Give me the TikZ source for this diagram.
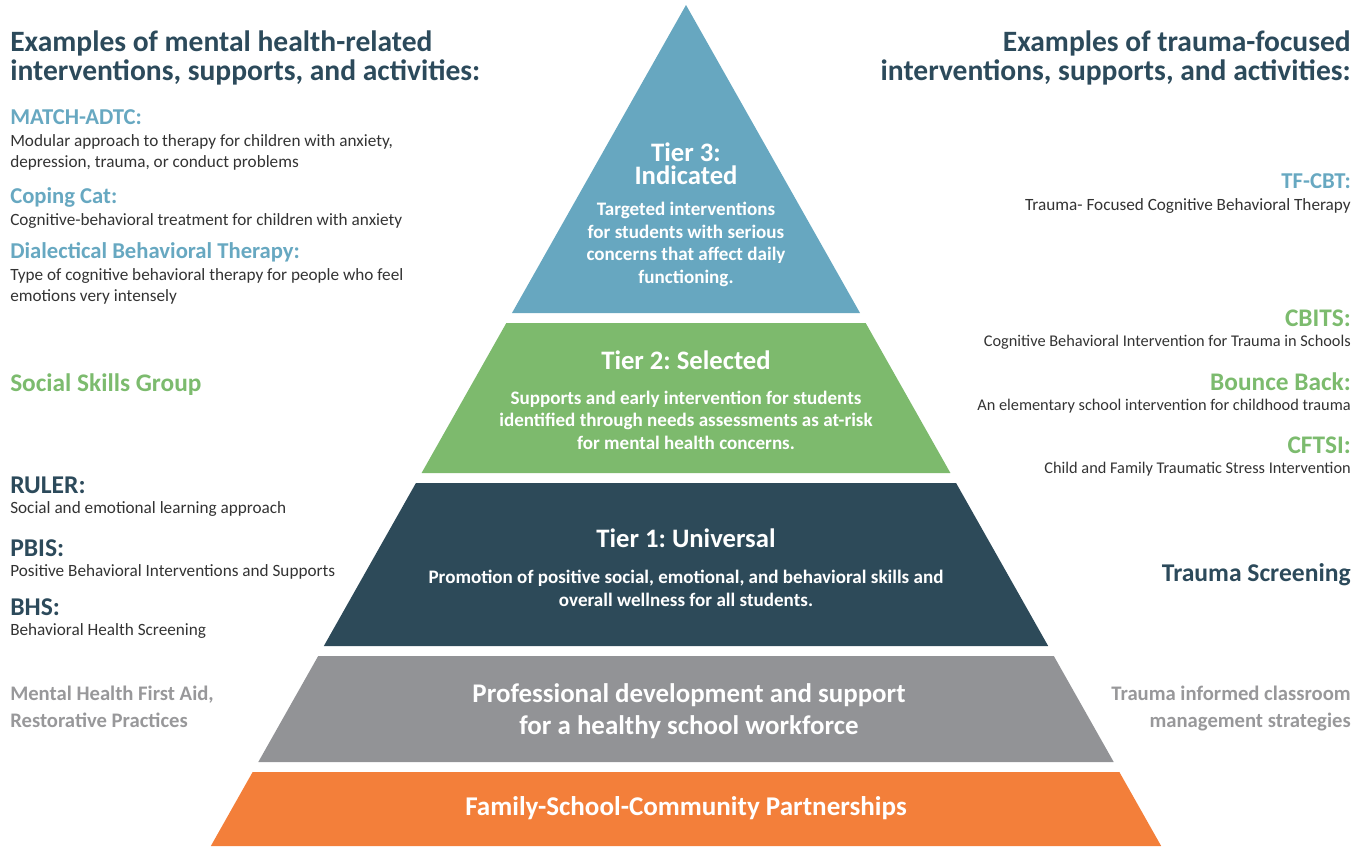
\documentclass[tikz,border=0pt]{standalone}
\usepackage{fontspec}
\setmainfont{Carlito}
\frenchspacing

\definecolor{headcol}{HTML}{2C4A5B}
\definecolor{bluecol}{HTML}{67A8C1}
\definecolor{greencol}{HTML}{7CBB6E}
\definecolor{bodycol}{HTML}{333333}
\definecolor{greytxt}{HTML}{98989A}
\definecolor{tierthree}{HTML}{67A7C0}
\definecolor{tiertwo}{HTML}{7DBA6D}
\definecolor{tierone}{HTML}{2D4A59}
\definecolor{staffgrey}{HTML}{929396}
\definecolor{partner}{HTML}{F37F3A}

% multi-line nodes sit on the baseline of their last line
\tikzset{
  txt/.style={inner sep=0pt, anchor=base west, align=left},
  rtxt/.style={inner sep=0pt, anchor=base east, align=right},
  head/.style={font=\bfseries\fontsize{22.15}{21.75}\selectfont, text=headcol},
  bluehd/.style={font=\bfseries\fontsize{17}{17}\selectfont, text=bluecol},
  greenhd/.style={font=\bfseries\fontsize{19}{19}\selectfont, text=greencol},
  darkhd/.style={font=\bfseries\fontsize{19.2}{19}\selectfont, text=headcol},
  greyhd/.style={font=\bfseries\fontsize{15.5}{20}\selectfont, text=greytxt},
  body/.style={font=\fontsize{12.9}{15.5}\selectfont, text=bodycol},
  smallbody/.style={font=\fontsize{12.25}{15}\selectfont, text=bodycol},
  tiertitle/.style={inner sep=0pt, anchor=base, align=center, text=white,
    font=\bfseries\fontsize{20}{17.25}\selectfont},
  tiertext/.style={inner sep=0pt, anchor=base, align=center, text=white,
    font=\bfseries\fontsize{14.3}{16.8}\selectfont}
}

\begin{document}
\begin{tikzpicture}[x=0.75pt, y=-0.75pt]
\useasboundingbox (0,0) rectangle (1369,846);

% pyramid layers, all on the same two slanted sides
\foreach \t/\b/\c in {5/313/tierthree, 323/473/tiertwo, 483/646/tierone,
                      656/762/staffgrey, 772/846/partner}
  \fill[\c] ({686-0.565*(\t-5)},\t) -- ({686+0.565*(\t-5)},\t)
    -- ({686+0.565*(\b-5)},\b) -- ({686-0.565*(\b-5)},\b) -- cycle;

% texts inside the pyramid
\node[tiertitle] (tier3) at (686,184) {Tier 3:\\Indicated};
\node[tiertext] (tier3txt) at (686,283) {Targeted interventions\\for students with serious\\concerns that affect daily\\functioning.};
\node[tiertitle] (tier2) at (686,369) {Tier 2: Selected};
\node[tiertext] (tier2txt) at (686,449) {Supports and early intervention for students\\identified through needs assessments as at-risk\\for mental health concerns.};
\node[tiertitle] (tier1) at (686,547) {Tier 1: Universal};
\node[tiertext] (tier1txt) at (686,606) {Promotion of positive social, emotional, and behavioral skills and\\overall wellness for all students.};
\node[tiertitle, font=\bfseries\fontsize{20.2}{24}\selectfont] (staff) at (689,734) {Professional development and support\\for a healthy school workforce};
\node[tiertitle, font=\bfseries\fontsize{20.3}{20}\selectfont] (family) at (686,815) {Family-School-Community Partnerships};

% left column
\node[txt, head] (lhead) at (10,80) {Examples of mental health-related\\interventions, supports, and activities:};
\node[txt, bluehd] (match) at (10,124) {MATCH-ADTC:};
\node[txt, body] (matchtxt) at (10,167.5) {Modular approach to therapy for children with anxiety,\\depression, trauma, or conduct problems};
\node[txt, bluehd] (coping) at (10,203) {Coping Cat:};
\node[txt, body] (copingtxt) at (10,225.5) {Cognitive-behavioral treatment for children with anxiety};
\node[txt, bluehd] (dbt) at (10,258) {Dialectical Behavioral Therapy:};
\node[txt, body] (dbttxt) at (10,301.5) {Type of cognitive behavioral therapy for people who feel\\emotions very intensely};
\node[txt, greenhd] (social) at (10,391.5) {Social Skills Group};
\node[txt, darkhd] (ruler) at (10,493) {RULER:};
\node[txt, body] (rulertxt) at (10,513) {Social and emotional learning approach};
\node[txt, darkhd] (pbis) at (10,556.5) {PBIS:};
\node[txt, body] (pbistxt) at (10,576.5) {Positive Behavioral Interventions and Supports};
\node[txt, darkhd] (bhs) at (10,615) {BHS:};
\node[txt, body] (bhstxt) at (10,635.5) {Behavioral Health Screening};
\node[txt, greyhd] (mhfa) at (10,727.5) {Mental Health First Aid,\\Restorative Practices};

% right column
\node[rtxt, head] (rhead) at (1351,80) {Examples of trauma-focused\\interventions, supports, and activities:};
\node[rtxt, bluehd] (tfcbt) at (1351,188) {TF-CBT:};
\node[rtxt, body] (tfcbttxt) at (1351,210) {Trauma- Focused Cognitive Behavioral Therapy};
\node[rtxt, greenhd] (cbits) at (1351,326) {CBITS:};
\node[rtxt, smallbody] (cbitstxt) at (1351,346.5) {Cognitive Behavioral Intervention for Trauma in Schools};
\node[rtxt, greenhd] (bounce) at (1351,390) {Bounce Back:};
\node[rtxt, smallbody] (bouncetxt) at (1351,410) {An elementary school intervention for childhood trauma};
\node[rtxt, greenhd] (cftsi) at (1351,453) {CFTSI:};
\node[rtxt, smallbody] (cftsitxt) at (1351,473) {Child and Family Traumatic Stress Intervention};
\node[rtxt, darkhd] (screen) at (1351,581.5) {Trauma Screening};
\node[rtxt, greyhd] (classroom) at (1351,727.5) {Trauma informed classroom\\management strategies};
\end{tikzpicture}
\end{document}
